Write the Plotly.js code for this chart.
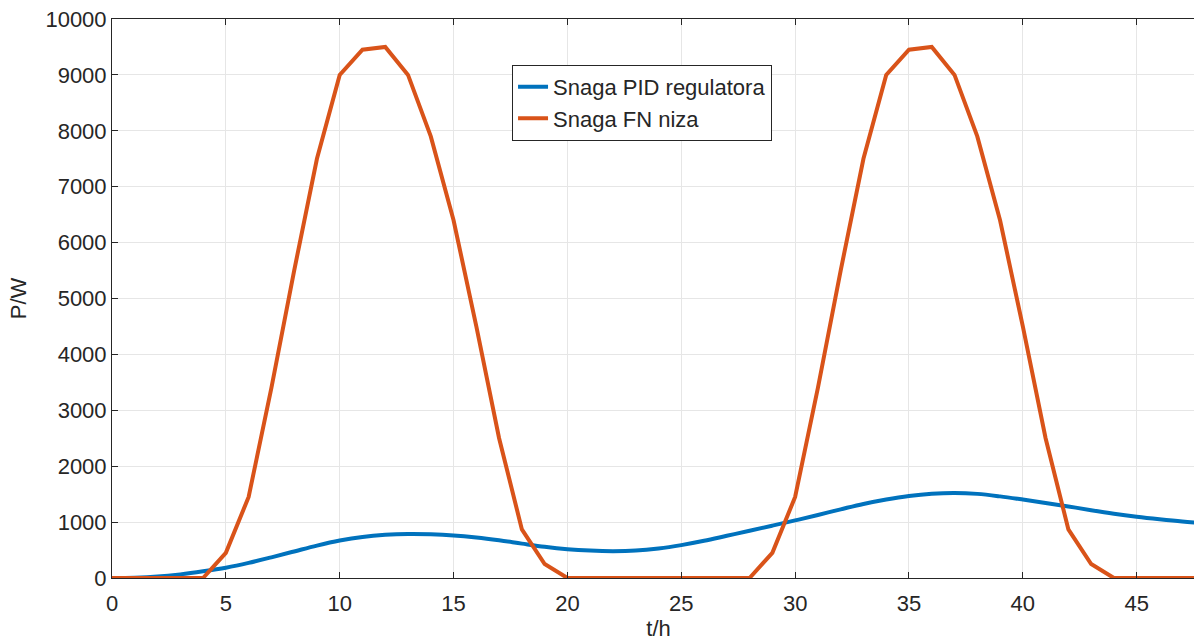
<!DOCTYPE html>
<html>
<head>
<meta charset="utf-8">
<script src="https://cdn.plot.ly/plotly-3.0.1.min.js"></script>
<style>
html,body{margin:0;padding:0;overflow:hidden;background:#fff;}
#chart{width:1220px;height:643px;}
</style>
</head>
<body>
<div id="chart"></div>
<script>
// Time in hours
const hours = [0,1,2,3,4,5,6,7,8,9,10,11,12,13,14,15,16,17,18,19,20,21,22,23,24,25,26,27,28,29,30,31,32,33,34,35,36,37,38,39,40,41,42,43,44,45,46,47,48];
// Snaga PID regulatora (W)
const pidPower = [0,5,25,65,120,185,270,370,475,580,670,735,772,787,782,762,725,675,615,558,515,490,480,490,528,588,665,755,845,937,1030,1128,1228,1325,1405,1468,1508,1522,1505,1460,1403,1342,1280,1212,1150,1097,1052,1012,980];
// Snaga FN niza (W)
const pvPower = [0,0,0,0,0,450,1450,3400,5500,7500,9000,9450,9500,9000,7900,6400,4500,2500,870,250,0,0,0,0,0,0,0,0,0,450,1450,3400,5500,7500,9000,9450,9500,9000,7900,6400,4500,2500,870,250,0,0,0,0,0];
const seriesNames = ["Snaga PID regulatora","Snaga FN niza"];
const xTicks = [0,5,10,15,20,25,30,35,40,45];
const yTicks = [0,1000,2000,3000,4000,5000,6000,7000,8000,9000,10000];

const font = {family:"Liberation Sans, Arial, sans-serif", size:22, color:"#262626"};
const traces = [
  {x:hours, y:pidPower, name:seriesNames[0], mode:"lines", line:{color:"#0072BD", width:4, shape:"spline", smoothing:1}},
  {x:hours, y:pvPower, name:seriesNames[1], mode:"lines", line:{color:"#D95319", width:4}}
];
const axisCommon = {
  showline:true, linecolor:"#262626", linewidth:1, mirror:"ticks",
  ticks:"inside", ticklen:6, tickcolor:"#262626", tickwidth:1,
  showgrid:true, gridcolor:"#e6e6e6", gridwidth:1, zeroline:false,
  tickfont:font
};
const layout = {
  width:1220, height:643,
  margin:{l:112, r:15, t:19, b:65},
  paper_bgcolor:"#fff", plot_bgcolor:"#fff",
  font:font,
  showlegend:true,
  legend:{x:0.366, y:0.918, xanchor:"left", yanchor:"top", bgcolor:"#fff", bordercolor:"#262626", borderwidth:1, font:font, tracegroupgap:0, itemwidth:30},
  xaxis:Object.assign({}, axisCommon, {range:[0,48], tickvals:xTicks, ticktext:xTicks.map(String), ticklabelstandoff:6, title:{text:"t/h", font:font, standoff:4}}),
  yaxis:Object.assign({}, axisCommon, {range:[0,10000], tickvals:yTicks, ticktext:yTicks.map(String), title:{text:"P/W", font:font, standoff:12}})
};
Plotly.newPlot("chart", traces, layout, {displayModeBar:false, staticPlot:true});
</script>
</body>
</html>
